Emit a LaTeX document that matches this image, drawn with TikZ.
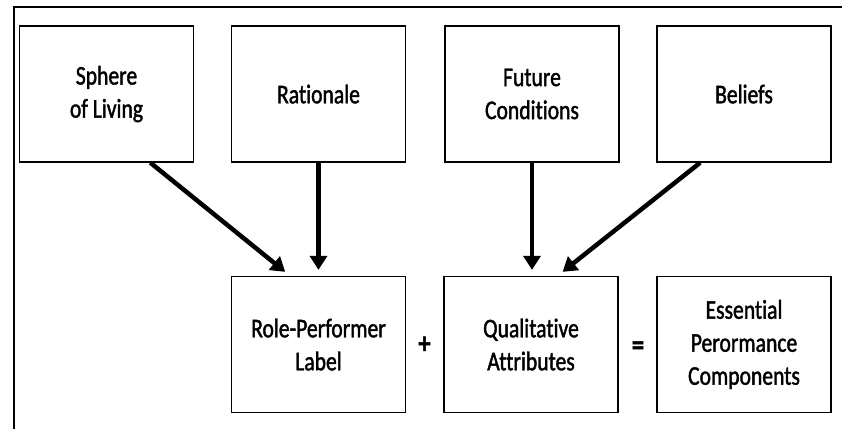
\documentclass[tikz,border=0pt]{standalone}
\usepackage{fontspec}
\setmainfont{Carlito}[FakeStretch=0.8,FakeBold=1.5,Ligatures={NoCommon}]
\usetikzlibrary{arrows.meta,calc}
\tikzset{
  box/.style={draw,line width=1.3pt,minimum width=174pt,minimum height=136pt,inner sep=0pt,align=center,font=\fontsize{27}{33}\selectfont},
  arr/.style={line width=4.5pt,-{Triangle[length=14pt,width=17pt]}},
  op/.style={font=\fontsize{30}{30}\selectfont\bfseries}
}
\begin{document}
\begin{tikzpicture}[x=1pt,y=1pt]
\useasboundingbox (0,0) rectangle (842,429);
\draw[line width=1.3pt] (14,0) -- (14,422) -- (842,422);
\node[box] (b1) at (106.5,335) {Sphere\\of Living};
\node[box] (b2) at (318.5,335) {Rationale};
\node[box] (b3) at (532,335) {Future\\Conditions};
\node[box] (b4) at (744,335) {Beliefs};
\node[box] (b5) at (318.5,84.5) {Role-Performer\\Label};
\node[box] (b6) at (531,84.5) {Qualitative\\Attributes};
\node[box] (b7) at (744,84.5) {Essential\\Perormance\\Components};
\node[op] (plus) at (424.5,84) {+};
\node[op] (eq) at (638,81) {=};
\coordinate (s1) at ($(b1.south west)!0.75!(b1.south east)$);
\coordinate (e1) at ($(b5.north west)!0.31!(b5.north east)+(0,4)$);
\coordinate (s4) at ($(b4.south west)!0.25!(b4.south east)$);
\coordinate (e4) at ($(b6.north west)!0.68!(b6.north east)+(0,4)$);
\draw[arr] (s1) -- (e1);
\draw[arr] (b2.south) -- ($(b5.north)+(0,6)$);
\draw[arr] (b3.south) -- ($(b6.north)+(1,6)$);
\draw[arr] (s4) -- (e4);
\end{tikzpicture}
\end{document}
